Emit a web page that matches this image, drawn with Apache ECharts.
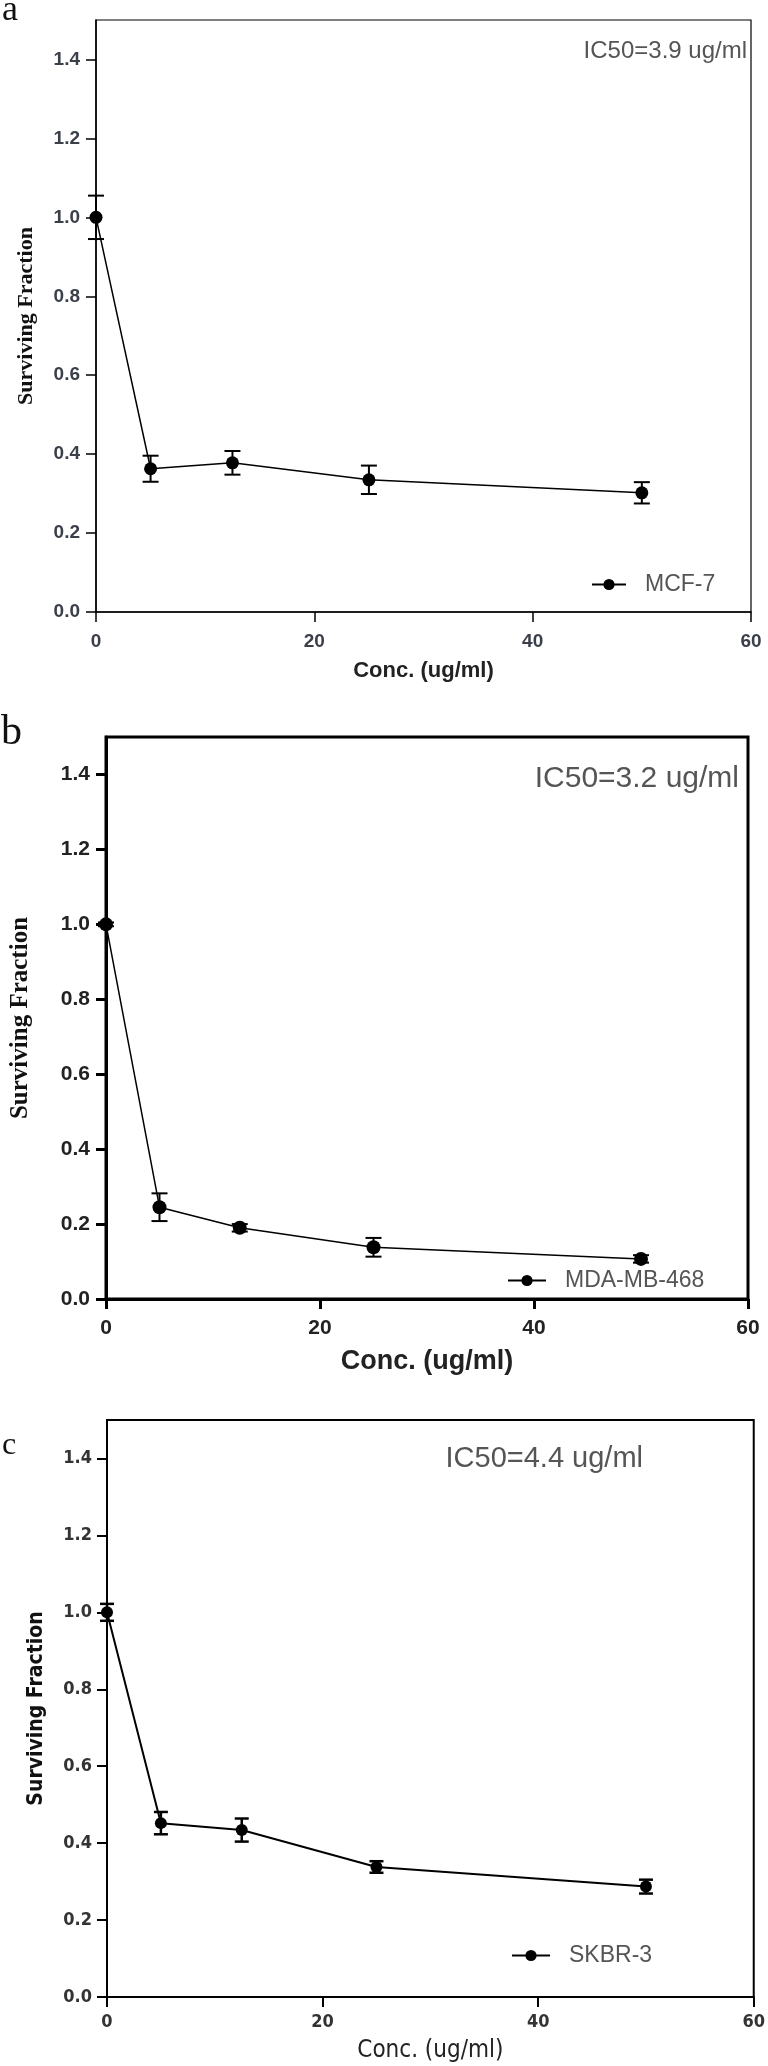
<!DOCTYPE html>
<html>
<head>
<meta charset="utf-8">
<script src="https://cdn.jsdelivr.net/npm/echarts@6/dist/echarts.min.js"></script>
<style>
  html, body { margin: 0; padding: 0; background: #fff; }
  #chart { width: 768px; height: 2066px; }
</style>
</head>
<body>
<div id="chart"></div>
<script>
// concentrations (ug/ml), same for all three cell lines
const conc = [0, 5, 12.5, 25, 50];

// surviving fraction (mean) and error (+/-)
const mcf7Mean = [1.0, 0.363, 0.378, 0.335, 0.302];
const mcf7Err = [0.055, 0.033, 0.03, 0.036, 0.027];

const mdaMean = [1.0, 0.245, 0.19, 0.138, 0.107];
const mdaErr = [0.005, 0.037, 0.01, 0.025, 0.01];

const skbrMean = [1.0, 0.452, 0.434, 0.338, 0.287];
const skbrErr = [0.022, 0.029, 0.03, 0.015, 0.018];

const yTicks = [0, 0.2, 0.4, 0.6, 0.8, 1.0, 1.2, 1.4];
const xTicks = [0, 20, 40, 60];

const SANS = "'Liberation Sans', Arial, sans-serif";
const NARROW = "'Liberation Sans Narrow', 'DejaVu Sans Condensed', Arial, sans-serif";
const SERIF = "'Liberation Serif', 'Times New Roman', serif";

const chart = echarts.init(document.getElementById("chart"));

// panel settings (layout + styles per panel)
const panels = [
  {
    name: "MCF-7", mean: mcf7Mean, err: mcf7Err,
    grid: { left: 96, right: 17, top: 20, height: 592, borderWidth: 1.2 },
    axisW: 1.5, lineW: 1.5, sym: 13, cap: 8,
    tickFont: { fontFamily: SANS, fontWeight: "bold", fontSize: 19, color: "#3a3f4a" },
    yName: { fontFamily: SERIF, fontWeight: "bold", fontSize: 22, gap: 59 },
    xName: { fontFamily: SANS, fontWeight: "bold", fontSize: 22, gap: 48 },
    yMargin: 16, xMargin: 20,
  },
  {
    name: "MDA-MB-468", mean: mdaMean, err: mdaErr,
    grid: { left: 100, right: 20, top: 737, height: 562, borderWidth: 3 },
    axisW: 3, lineW: 1.5, sym: 14, cap: 8,
    tickFont: { fontFamily: SANS, fontWeight: "bold", fontSize: 21, color: "#222" },
    yName: { fontFamily: SERIF, fontWeight: "bold", fontSize: 25, gap: 73 },
    xName: { fontFamily: SANS, fontWeight: "bold", fontSize: 27, gap: 49 },
    yMargin: 16, xMargin: 19,
  },
  {
    name: "SKBR-3", mean: skbrMean, err: skbrErr,
    grid: { left: 107, right: 9, top: 1420, height: 577, borderWidth: 2 },
    axisW: 2, lineW: 2, sym: 12, cap: 7,
    tickFont: { fontFamily: NARROW, fontWeight: "bold", fontSize: 18, color: "#333" },
    yName: { fontFamily: NARROW, fontWeight: "bold", fontSize: 21, gap: 60 },
    xName: { fontFamily: NARROW, fontWeight: "normal", fontSize: 24, gap: 42 },
    yMargin: 15, xMargin: 16,
  },
];

const grids = [], xAxes = [], yAxes = [], series = [];

panels.forEach((p, i) => {
  grids.push({
    left: p.grid.left, right: p.grid.right, top: p.grid.top, height: p.grid.height,
    show: true, borderColor: "#000", borderWidth: p.grid.borderWidth,
    backgroundColor: "transparent",
  });
  xAxes.push({
    gridIndex: i, type: "value", min: 0, max: 60, interval: 20,
    name: "Conc. (ug/ml)", nameLocation: "middle", nameGap: p.xName.gap,
    nameTextStyle: {
      fontFamily: p.xName.fontFamily, fontWeight: p.xName.fontWeight,
      fontSize: p.xName.fontSize, color: "#222",
    },
    axisLine: { show: true, onZero: false, lineStyle: { color: "#000", width: p.axisW } },
    axisTick: { show: true, inside: false, length: 10, lineStyle: { color: "#000", width: p.axisW } },
    axisLabel: { margin: p.xMargin, ...p.tickFont, customValues: xTicks },
    splitLine: { show: false },
  });
  yAxes.push({
    gridIndex: i, type: "value", min: 0, max: 1.5,
    name: "Surviving Fraction", nameLocation: "middle", nameGap: p.yName.gap,
    nameTextStyle: {
      fontFamily: p.yName.fontFamily, fontWeight: p.yName.fontWeight,
      fontSize: p.yName.fontSize, color: "#111",
    },
    axisLine: { show: true, onZero: false, lineStyle: { color: "#000", width: p.axisW } },
    axisTick: { show: true, inside: false, length: 10, customValues: yTicks, lineStyle: { color: "#000", width: p.axisW } },
    axisLabel: {
      margin: p.yMargin, ...p.tickFont, customValues: yTicks,
      formatter: (v) => v.toFixed(1),
    },
    splitLine: { show: false },
  });

  // error bars
  series.push({
    type: "custom",
    xAxisIndex: i, yAxisIndex: i,
    silent: true, clip: false, z: 3,
    data: conc.map((x, k) => [x, p.mean[k] - p.err[k], p.mean[k] + p.err[k]]),
    encode: { x: 0, y: [1, 2] },
    renderItem: (params, api) => {
      const x = api.value(0);
      const lo = api.coord([x, api.value(1)]);
      const hi = api.coord([x, api.value(2)]);
      const st = { stroke: "#000", lineWidth: p.lineW + 0.5 };
      return {
        type: "group",
        children: [
          { type: "line", shape: { x1: lo[0], y1: lo[1], x2: hi[0], y2: hi[1] }, style: st },
          { type: "line", shape: { x1: hi[0] - p.cap, y1: hi[1], x2: hi[0] + p.cap, y2: hi[1] }, style: st },
          { type: "line", shape: { x1: lo[0] - p.cap, y1: lo[1], x2: lo[0] + p.cap, y2: lo[1] }, style: st },
        ],
      };
    },
  });

  // mean curve
  series.push({
    name: p.name,
    type: "line",
    xAxisIndex: i, yAxisIndex: i,
    data: conc.map((x, k) => [x, p.mean[k]]),
    symbol: "circle", symbolSize: p.sym,
    lineStyle: { color: "#000", width: p.lineW },
    itemStyle: { color: "#000" },
    clip: false, z: 4,
  });
});

const legendText = { fontFamily: SANS, fontSize: 23, color: "#555", padding: [0, 0, 0, 14] };

const option = {
  animation: false,
  backgroundColor: "#fff",
  grid: grids,
  xAxis: xAxes,
  yAxis: yAxes,
  series: series,
  legend: [
    { data: ["MCF-7"], left: 586, top: 568, itemWidth: 34, itemHeight: 14, textStyle: legendText },
    { data: ["MDA-MB-468"], left: 502, top: 1264, itemWidth: 38, itemHeight: 14, textStyle: legendText },
    { data: ["SKBR-3"], left: 506, top: 1939, itemWidth: 38, itemHeight: 14, textStyle: legendText },
  ],
  graphic: [
    // panel letters
    { type: "text", x: 2, y: 29, style: { text: "a", font: "36px " + SERIF, fill: "#111", verticalAlign: "bottom" } },
    { type: "text", x: 1, y: 754, style: { text: "b", font: "42px " + SERIF, fill: "#111", verticalAlign: "bottom" } },
    { type: "text", x: 2, y: 1462, style: { text: "c", font: "32px " + SERIF, fill: "#111", verticalAlign: "bottom" } },
    // IC50 notes
    { type: "text", x: 747, y: 51, style: { text: "IC50=3.9 ug/ml", font: "24px " + SANS, fill: "#555", align: "right", verticalAlign: "middle" } },
    { type: "text", x: 739, y: 779, style: { text: "IC50=3.2 ug/ml", font: "30px " + SANS, fill: "#555", align: "right", verticalAlign: "middle" } },
    { type: "text", x: 643, y: 1459, style: { text: "IC50=4.4 ug/ml", font: "29px " + SANS, fill: "#555", align: "right", verticalAlign: "middle" } },
  ],
};

chart.setOption(option);
</script>
</body>
</html>
